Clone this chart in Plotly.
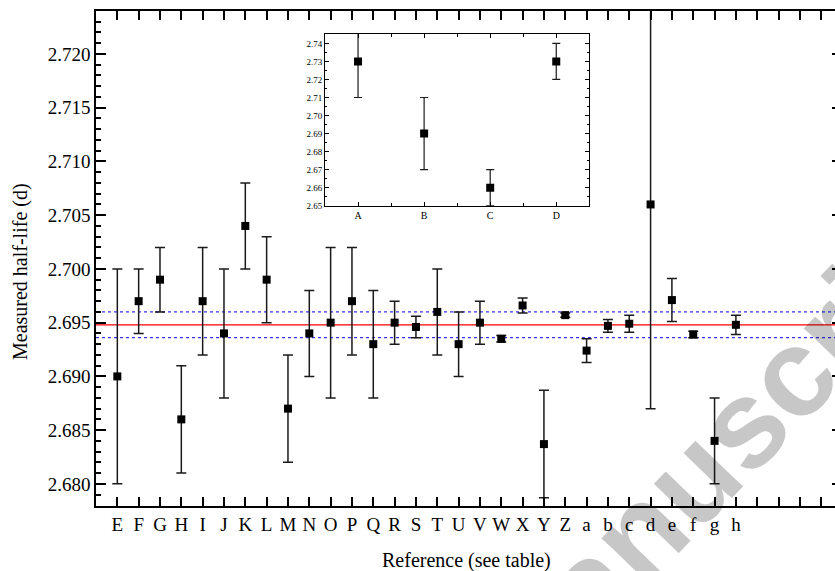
import plotly.graph_objects as go

# ---------------- data ----------------
refs = ['E', 'F', 'G', 'H', 'I', 'J', 'K', 'L', 'M', 'N', 'O', 'P', 'Q', 'R', 'S',
        'T', 'U', 'V', 'W', 'X', 'Y', 'Z', 'a', 'b', 'c', 'd', 'e', 'f', 'g', 'h']
half_life = [2.690, 2.697, 2.699, 2.686, 2.697, 2.694, 2.704, 2.699, 2.687, 2.694,
             2.695, 2.697, 2.693, 2.695, 2.6946, 2.696, 2.693, 2.695, 2.6935, 2.6966,
             2.6837, 2.6957, 2.6924, 2.6947, 2.6949, 2.706, 2.6971, 2.6939, 2.684, 2.6948]
half_life_err = [0.010, 0.003, 0.003, 0.005, 0.005, 0.006, 0.004, 0.004, 0.005, 0.004,
                 0.007, 0.005, 0.005, 0.002, 0.001, 0.004, 0.003, 0.002, 0.0003, 0.0007,
                 0.005, 0.0002, 0.0011, 0.0006, 0.0008, 0.019, 0.002, 0.0003, 0.004, 0.0009]

mean_value = 2.6948
band_upper = 2.6960
band_lower = 2.6936

inset_refs = ['A', 'B', 'C', 'D']
inset_values = [2.73, 2.69, 2.66, 2.73]
inset_err = [0.02, 0.02, 0.01, 0.01]

y_ticks = [2.680, 2.685, 2.690, 2.695, 2.700, 2.705, 2.710, 2.715, 2.720]
inset_y_ticks = [2.65, 2.66, 2.67, 2.68, 2.69, 2.70, 2.71, 2.72, 2.73, 2.74]

# ---------------- figure ----------------
FONT = "Liberation Serif, Times New Roman, Times, serif"
x_idx = list(range(len(refs)))
n_extra = 4
tick_positions = list(range(-1, len(refs) + n_extra))
tick_labels = [refs[i] if 0 <= i < len(refs) else '' for i in tick_positions]

fig = go.Figure()

fig.add_trace(go.Scatter(
    x=x_idx, y=half_life, mode='markers',
    marker=dict(symbol='square', size=8, color='black'),
    error_y=dict(type='data', array=half_life_err, visible=True,
                 color='#1a1a1a', thickness=1.5, width=5),
    xaxis='x', yaxis='y', showlegend=False, cliponaxis=True))

# invisible trace for right-side ticks
fig.add_trace(go.Scatter(x=[0], y=[mean_value], mode='markers', marker=dict(opacity=0),
                         xaxis='x', yaxis='y3', showlegend=False, hoverinfo='skip'))

fig.add_trace(go.Scatter(
    x=list(range(len(inset_refs))), y=inset_values, mode='markers',
    marker=dict(symbol='square', size=8, color='black'),
    error_y=dict(type='data', array=inset_err, visible=True,
                 color='#1a1a1a', thickness=1.2, width=4),
    xaxis='x2', yaxis='y2', showlegend=False))

shapes = []
for xr, yr in (('x domain', 'y'), ('x2 domain', 'y2')):
    shapes.append(dict(type='line', xref=xr, yref=yr, x0=0, x1=1, y0=band_upper, y1=band_upper,
                       line=dict(color='blue', width=1, dash='dot'), layer='below'))
    shapes.append(dict(type='line', xref=xr, yref=yr, x0=0, x1=1, y0=band_lower, y1=band_lower,
                       line=dict(color='blue', width=1, dash='dot'), layer='below'))
    shapes.append(dict(type='line', xref=xr, yref=yr, x0=0, x1=1, y0=mean_value, y1=mean_value,
                       line=dict(color='red', width=1.2), layer='below'))

W, H = 835, 571
ml, mr, mt, mb = 96, 0, 11, 65
pw, ph = W - ml - mr, H - mt - mb
spacing = 21.33
x_max = -1 + pw / spacing


def px_x(px):
    return (px - ml) / pw


def px_y(py):
    return (H - mb - py) / ph


fig.update_layout(
    width=W, height=H,
    margin=dict(l=ml, r=mr, t=mt, b=mb),
    paper_bgcolor='white', plot_bgcolor='white',
    font=dict(family=FONT, color='black'),
    shapes=shapes,
    xaxis=dict(range=[-1, x_max], tickmode='array', tickvals=tick_positions, ticktext=tick_labels,
               ticks='inside', ticklen=9, tickwidth=1.5, tickcolor='black',
               showline=True, linecolor='black', linewidth=1.5, mirror='ticks',
               showgrid=False, zeroline=False, tickfont=dict(size=19, family=FONT)),
    yaxis=dict(range=[2.67794, 2.7240], tickmode='array', tickvals=y_ticks,
               tickformat='.3f', ticks='inside', ticklen=10, tickwidth=1.5, tickcolor='black',
               minor=dict(dtick=0.001, tick0=2.680, ticks='inside', ticklen=5, tickwidth=1.5,
                          tickcolor='black', showgrid=False),
               showline=True, linecolor='black', linewidth=1.5, mirror=False,
               showgrid=False, zeroline=False, tickfont=dict(size=19, family=FONT)),
    yaxis3=dict(range=[2.67794, 2.7240], overlaying='y', side='right', anchor='x',
                tickmode='array', tickvals=y_ticks, ticks='inside', ticklen=3, tickwidth=1.5,
                tickcolor='black', showticklabels=False, showline=False, showgrid=False,
                zeroline=False),
    xaxis2=dict(domain=[px_x(325), px_x(589.3)], anchor='y2', range=[-0.5, 3.5],
                tickmode='array', tickvals=[0, 1, 2, 3], ticktext=inset_refs,
                ticks='inside', ticklen=4, tickwidth=1, tickcolor='black',
                minor=dict(tickvals=[0.5, 1.5, 2.5], ticks='inside', ticklen=3,
                           tickcolor='black', tickwidth=1),
                showline=True, linecolor='black', linewidth=1, mirror='ticks',
                showgrid=False, zeroline=False, tickfont=dict(size=10, family=FONT)),
    yaxis2=dict(domain=[px_y(205.7), px_y(34)], anchor='x2', range=[2.65, 2.7452],
                tickmode='array', tickvals=inset_y_ticks, tickformat='.2f',
                ticks='inside', ticklen=4, tickwidth=1, tickcolor='black',
                minor=dict(dtick=0.005, tick0=2.65, ticks='inside', ticklen=2,
                           tickcolor='black', tickwidth=1),
                showline=True, linecolor='black', linewidth=1, mirror='ticks',
                showgrid=False, zeroline=False, tickfont=dict(size=9, family=FONT)),
    annotations=[
        dict(text='Measured half-life (d)', xref='paper', yref='paper',
             x=px_x(20), y=px_y(272), xanchor='center', yanchor='middle',
             textangle=-90, showarrow=False, font=dict(size=20, family=FONT)),
        dict(text='Reference (see table)', xref='paper', yref='paper',
             x=px_x(466), y=px_y(560), xanchor='center', yanchor='middle',
             showarrow=False, font=dict(size=20, family=FONT)),
        dict(text='<b>Manuscript</b>', xref='paper', yref='paper',
             x=px_x(722), y=px_y(445), xanchor='center', yanchor='middle',
             textangle=-46, showarrow=False,
             font=dict(size=125, family='Liberation Sans, Arial, sans-serif',
                       color='rgba(0,0,0,0.22)')),
    ],
)

fig.write_html("out.html", config={'displayModeBar': False},
               post_script="document.body.style.margin='0';document.body.style.overflow='hidden';")
